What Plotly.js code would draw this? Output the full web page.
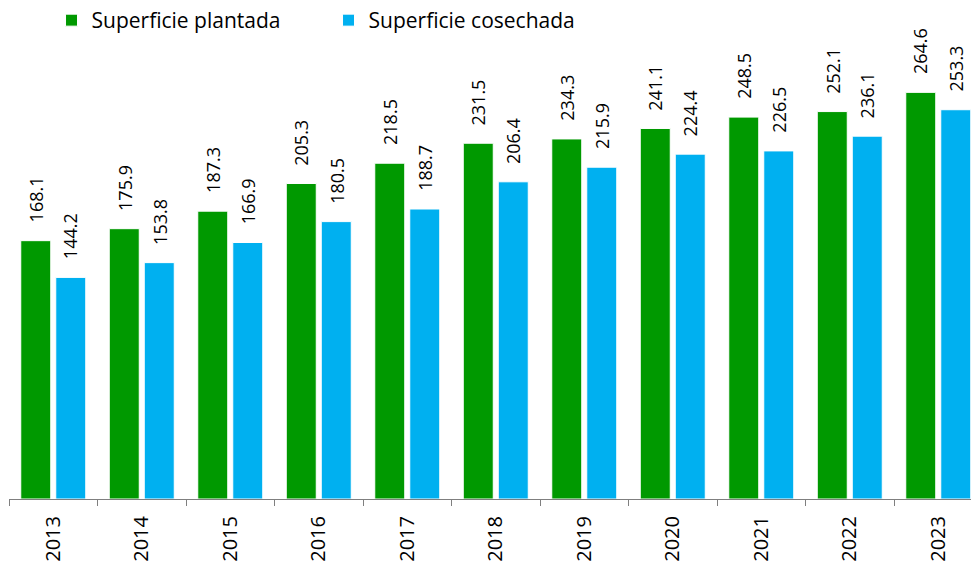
<!DOCTYPE html>
<html>
<head>
<meta charset="utf-8">
<script src="https://cdn.plot.ly/plotly-3.0.1.min.js"></script>
<style>
  html, body { margin: 0; padding: 0; background: #fff; }
  #chart { width: 971px; height: 565px; }
</style>
</head>
<body>
<div id="chart"></div>
<script>
// superficie plantada vs cosechada, 2013-2023
const years = ["2013", "2014", "2015", "2016", "2017", "2018", "2019", "2020", "2021", "2022", "2023"];
const plantada = [168.1, 175.9, 187.3, 205.3, 218.5, 231.5, 234.3, 241.1, 248.5, 252.1, 264.6];
const cosechada = [144.2, 153.8, 166.9, 180.5, 188.7, 206.4, 215.9, 224.4, 226.5, 236.1, 253.3];
const seriesNames = ["Superficie plantada", "Superficie cosechada"];

const GREEN = "#009900", BLUE = "#00B0F0";
const FONT = "'Open Sans', sans-serif";

const traces = [
  { type: "bar", name: seriesNames[0], x: years, y: plantada,
    marker: { color: GREEN, line: { color: "#ffffff", width: 1 } }, hoverinfo: "x+y" },
  { type: "bar", name: seriesNames[1], x: years, y: cosechada,
    marker: { color: BLUE, line: { color: "#ffffff", width: 1 } }, hoverinfo: "x+y" }
];

// value labels: rotated, a bit above each bar (shifted left/right within the group).
// x is the category index: year strings look numeric, so plotly would read them as range values
function labels(vals, shift) {
  return vals.map((v, i) => ({
    x: i, y: v, xref: "x", yref: "y", text: v.toFixed(1),
    showarrow: false, textangle: -90, xanchor: "center", yanchor: "bottom",
    xshift: shift, yshift: 16, font: { family: FONT, size: 18, color: "#000" }
  }));
}

const layout = {
  width: 971, height: 565,
  margin: { l: 9, r: 0, t: 0, b: 66 },
  paper_bgcolor: "#fff", plot_bgcolor: "#fff",
  font: { family: FONT, size: 18, color: "#000" },
  barmode: "group", bargap: 0.209, bargroupgap: 0.143,
  showlegend: true,
  legend: { orientation: "h", x: 0.0442, y: 1, xanchor: "left", yanchor: "top",
            font: { family: FONT, size: 21, color: "#000" },
            entrywidth: 232, entrywidthmode: "pixels", bgcolor: "rgba(0,0,0,0)" },
  xaxis: { type: "category", range: [-0.5, 10.37], showline: true, linecolor: "#7f7f7f", linewidth: 1,
           ticks: "outside", tickson: "boundaries", ticklen: 6, tickcolor: "#7f7f7f",
           tickangle: -90, tickfont: { family: FONT, size: 20, color: "#000" }, ticklabelstandoff: 8,
           showgrid: false, zeroline: false, fixedrange: true },
  yaxis: { range: [0, 324.7], showticklabels: false, ticks: "", showline: false,
           showgrid: false, zeroline: false, fixedrange: true },
  annotations: labels(plantada, -17.5).concat(labels(cosechada, 17.5))
};

Plotly.newPlot("chart", traces, layout, { displayModeBar: false, staticPlot: true });
</script>
</body>
</html>
